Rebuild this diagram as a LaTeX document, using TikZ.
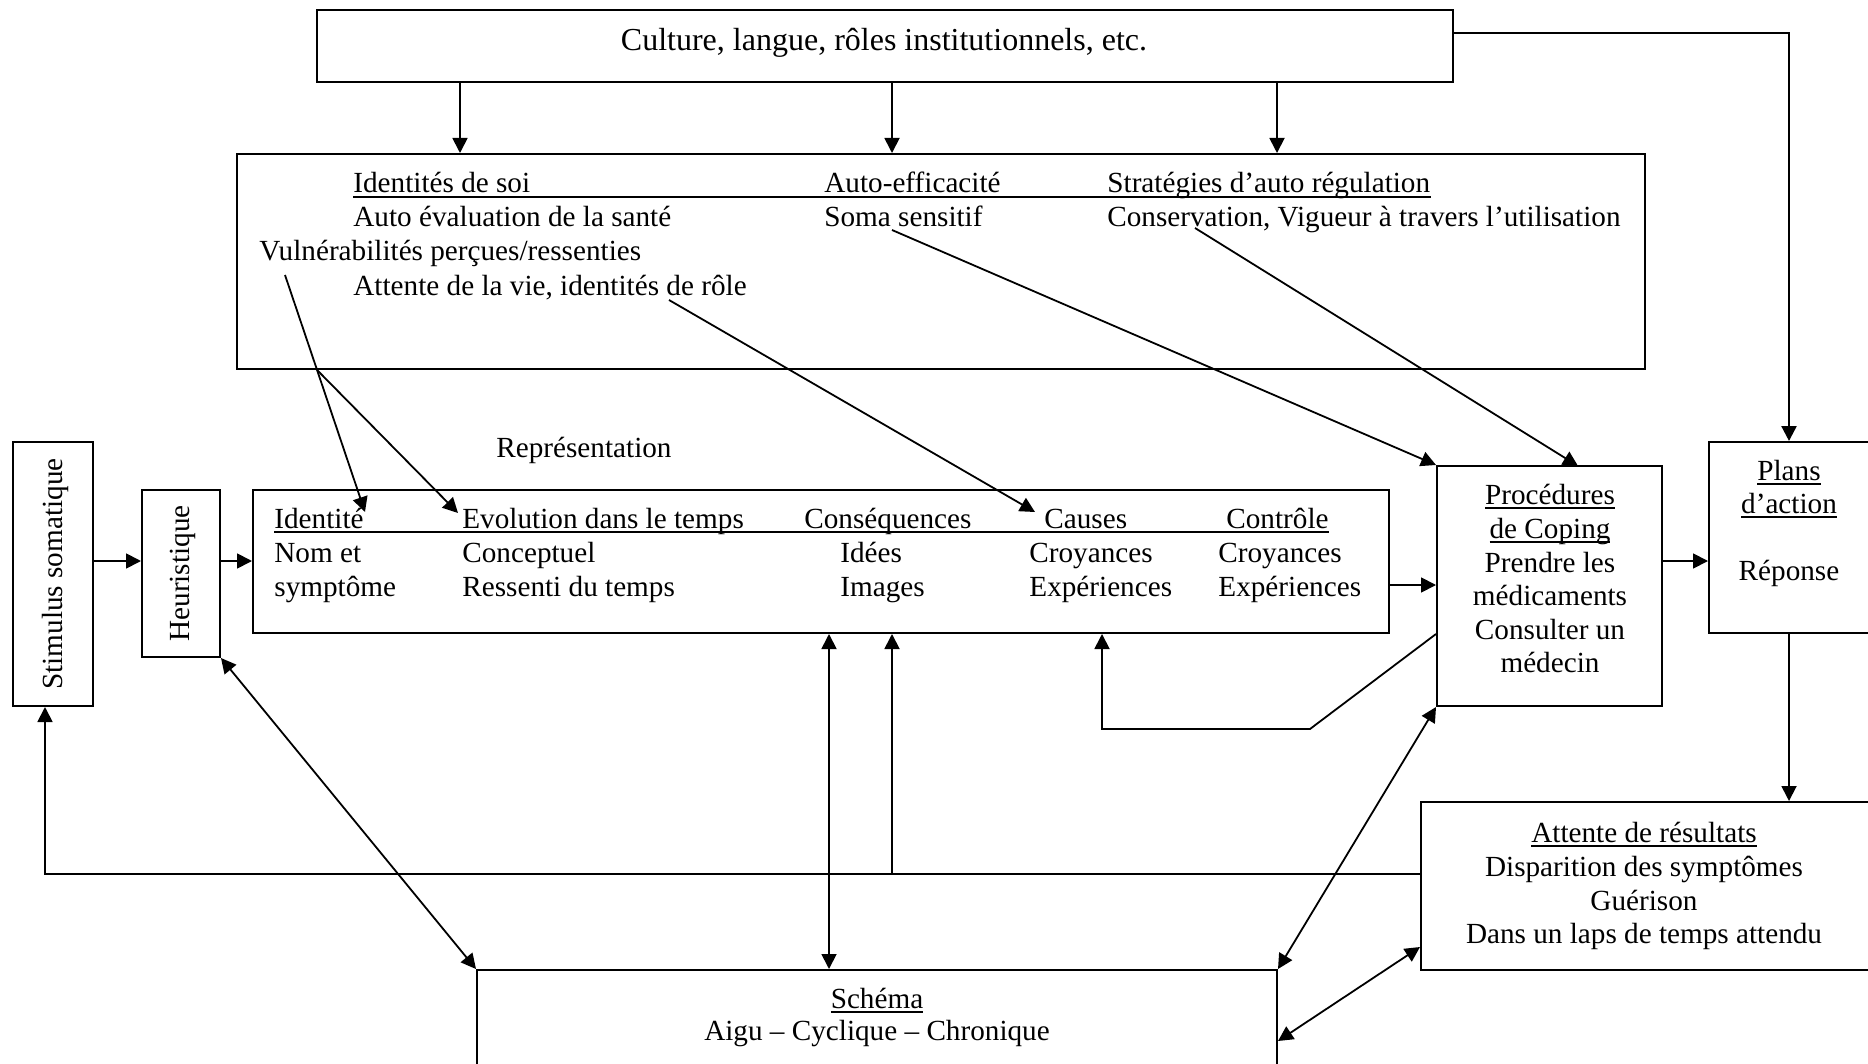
\documentclass[tikz,border=0pt]{standalone}
\usepackage{fontspec}
\setmainfont{Liberation Serif}
\usetikzlibrary{arrows.meta,calc}
\newcommand{\ulx}[1]{\setbox0\hbox{#1}\rlap{\vrule width\wd0 height -1.6pt depth 2.5pt}\box0}
\begin{document}
\begin{tikzpicture}[x=0.5pt,y=-0.5pt,
  box/.style={draw, line width=1pt, inner sep=0pt},
  txt/.style={inner sep=0pt, font=\fontsize{14.6pt}{17pt}\selectfont},
  arr/.style={line width=0.9pt, -{Triangle[length=7.5pt,width=7.5pt]}},
  darr/.style={line width=0.9pt, {Triangle[length=7.5pt,width=7.5pt]}-{Triangle[length=7.5pt,width=7.5pt]}},
  uline/.style={line width=0.9pt}]
\useasboundingbox (0,0) rectangle (1868,1064);
\clip (0,0) rectangle (1868,1064);

% boxes
\node[box, line width=1.3pt, minimum width=568pt, minimum height=36pt] (top) at (885,46) {};
\node[box, minimum width=704pt, minimum height=107.5pt] (soi) at (941,261.5) {};
\node[box, minimum width=40pt, minimum height=132pt] (stim) at (53,574) {};
\node[box, minimum width=39pt, minimum height=83.5pt] (heur) at (181,573.5) {};
\node[box, minimum width=568pt, minimum height=71.5pt] (rep) at (821,561.5) {};
\node[box, minimum width=112.5pt, minimum height=120pt] (cop) at (1549.5,586) {};
\node[box, minimum width=90.5pt, minimum height=95.5pt] (plans) at (1799.5,537.5) {};
\node[box, minimum width=234.5pt, minimum height=84pt] (att) at (1655.5,886) {};
\node[box, minimum width=400pt, minimum height=65pt] (sch) at (877,1035) {};

% top text
\node[txt, font=\fontsize{16pt}{18pt}\selectfont, anchor=base] (ttop) at (884,51) {Culture, langue, rôles institutionnels, etc.};

% self box texts
\node[txt, anchor=base west] (s11) at (353,193) {Identités de soi};
\node[txt, anchor=base west] (s12) at (824,193) {Auto-efficacité};
\node[txt, anchor=base west] (s13) at (1107,193) {Stratégies d’auto régulation};
\node[txt, anchor=base west] (s21) at (353,227) {Auto évaluation de la santé};
\node[txt, anchor=base west] (s22) at (824,227) {Soma sensitif};
\node[txt, anchor=base west] (s23) at (1107,227) {Conservation, Vigueur à travers l’utilisation};
\node[txt, anchor=base west] (s31) at (259,261) {Vulnérabilités perçues/ressenties};
\node[txt, anchor=base west] (s41) at (353,295) {Attente de la vie, identités de rôle};
\draw[uline] ([yshift=-2.05pt]s11.base west) -- ([yshift=-2.05pt]s13.base east);

% representation
\node[txt, anchor=base west] (replab) at (496,457) {Représentation};
\node[txt, anchor=base west] (r11) at (274,528) {Identité};
\node[txt, anchor=base west] (r12) at (462,528) {Evolution dans le temps};
\node[txt, anchor=base west] (r13) at (804,528) {Conséquences};
\node[txt, anchor=base west] (r14) at (1044,528) {Causes};
\node[txt, anchor=base west] (r15) at (1226,528) {Contrôle};
\draw[uline] ([yshift=-2.05pt]r11.base west) -- ([yshift=-2.05pt]r15.base east);
\node[txt, anchor=base west] (r21) at (274,562) {Nom et};
\node[txt, anchor=base west] (r22) at (462,562) {Conceptuel};
\node[txt, anchor=base west] (r23) at (840,562) {Idées};
\node[txt, anchor=base west] (r24) at (1029,562) {Croyances};
\node[txt, anchor=base west] (r25) at (1218,562) {Croyances};
\node[txt, anchor=base west] (r31) at (274,596) {symptôme};
\node[txt, anchor=base west] (r32) at (462,596) {Ressenti du temps};
\node[txt, anchor=base west] (r33) at (840,596) {Images};
\node[txt, anchor=base west] (r34) at (1029,596) {Expériences};
\node[txt, anchor=base west] (r35) at (1218,596) {Expériences};

% rotated
\node[txt, rotate=90] (tstim) at (55,574) {Stimulus somatique};
\node[txt, rotate=90] (theur) at (183,573.5) {Heuristique};

% coping
\node[txt, anchor=base] (c1) at (1550,504) {\ulx{Procédures}};
\node[txt, anchor=base] (c2) at (1550,538) {\ulx{de Coping}};
\node[txt, anchor=base] (c3) at (1550,572) {Prendre les};
\node[txt, anchor=base] (c4) at (1550,605) {médicaments};
\node[txt, anchor=base] (c5) at (1550,639) {Consulter un};
\node[txt, anchor=base] (c6) at (1550,672) {médecin};

% plans
\node[txt, anchor=base] (p1) at (1789,480) {\ulx{Plans}};
\node[txt, anchor=base] (p2) at (1789,513) {\ulx{d’action}};
\node[txt, anchor=base] (p3) at (1789,580) {Réponse};

% attente
\node[txt, anchor=base] (a1) at (1644,842) {\ulx{Attente de résultats}};
\node[txt, anchor=base] (a2) at (1644,876) {Disparition des symptômes};
\node[txt, anchor=base] (a3) at (1644,910) {Guérison};
\node[txt, anchor=base] (a4) at (1644,943) {Dans un laps de temps attendu};

% schema
\node[txt, anchor=base] (sc1) at (877,1008) {\ulx{Schéma}};
\node[txt, anchor=base] (sc2) at (877,1040) {Aigu – Cyclique – Chronique};

% connectors
\coordinate (kr) at (1789,33);
\draw[arr, line width=1.2pt] (top.east |- kr) -- (kr) -- (plans.north -| kr);
\foreach \x [count=\i] in {460,892,1277} {
  \coordinate (d\i) at (\x,0);
  \draw[arr] (top.south -| d\i) -- (soi.north -| d\i);
}
\coordinate (vA) at (285,275);
\coordinate (vI) at (365,512);
\coordinate (vE) at (458,513);
\draw[arr] (vA) -- (vI);
\draw[arr] (intersection of vA--vI and soi.south west--soi.south east) -- (vE);
\coordinate (rA) at (669,300);
\coordinate (rC) at (1035,512);
\draw[arr] (rA) -- (rC);
\coordinate (sA) at (892,230);
\draw[arr] (sA) -- (cop.north west);
\coordinate (cA) at (1195,228);
\coordinate (cB) at (1578,466);
\draw[arr] (cA) -- (cB);

\coordinate (ya) at (0,561);
\coordinate (yb) at (0,585);
\draw[arr] (stim.east |- ya) -- (heur.west |- ya);
\draw[arr] (heur.east |- ya) -- (rep.west |- ya);
\draw[arr] (rep.east |- yb) -- (cop.west |- yb);
\draw[arr] (cop.east |- ya) -- (plans.west |- ya);
\coordinate (xp) at (1789,0);
\draw[arr] (plans.south -| xp) -- (att.north -| xp);

\coordinate (fb) at (45,874);
\draw[arr] (att.west |- fb) -- (fb) -- (stim.south -| fb);
\coordinate (xi) at (892,874);
\draw[arr] (xi) -- (rep.south -| xi);
\coordinate (xc) at (829,0);
\draw[darr] (rep.south -| xc) -- (sch.north -| xc);
\draw[darr] (heur.south east) -- (sch.north west);
\coordinate (ce) at (1310,729);
\coordinate (cx) at (1102,729);
\coordinate (cy) at (0,634);
\draw[arr] (cop.west |- cy) -- (ce) -- (cx) -- (rep.south -| cx);
\draw[darr] (cop.south west) -- (sch.north east);
\coordinate (ay) at (0,947);
\coordinate (sy) at (0,1041);
\draw[darr] (att.west |- ay) -- (sch.east |- sy);
\end{tikzpicture}
\end{document}
